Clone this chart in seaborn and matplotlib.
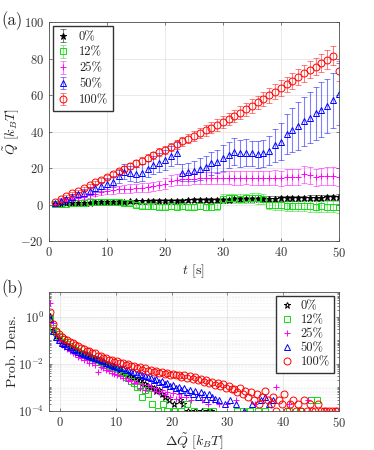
import matplotlib
matplotlib.use('Agg')
import matplotlib.pyplot as plt
import matplotlib.ticker as mticker
from matplotlib.colors import to_rgba
import seaborn as sns
import numpy as np

# ---- top panel: mean heat vs time ----
t = np.arange(1, 51)

q_0 = [0.3, 0.5, 0.6, 0.8, 0.9, 1.0, 1.1, 1.2, 1.3, 1.4,
       1.5, 1.6, 1.6, 1.7, 1.8, 1.8, 1.9, 2.0, 2.0, 2.1,
       2.1, 2.2, 2.2, 2.3, 2.3, 2.4, 2.4, 2.5, 2.5, 2.6,
       2.7, 2.8, 2.9, 3.0, 3.0, 3.1, 3.1, 3.2, 3.2, 3.3,
       3.4, 3.5, 3.5, 3.6, 3.7, 3.7, 3.8, 3.9, 4.0, 4.1]
err_0 = [0.2, 0.3, 0.3, 0.4, 0.4, 0.5, 0.5, 0.5, 0.6, 0.6,
         0.6, 0.7, 0.7, 0.7, 0.7, 0.8, 0.8, 0.8, 0.8, 0.9,
         0.9, 0.9, 0.9, 0.9, 1.0, 1.0, 1.0, 1.0, 1.0, 1.1,
         1.1, 1.1, 1.1, 1.1, 1.2, 1.2, 1.2, 1.2, 1.2, 1.2,
         1.3, 1.3, 1.3, 1.3, 1.3, 1.4, 1.4, 1.4, 1.4, 1.4]

q_12 = [0.2, 0.4, 0.5, 0.7, 0.8, 1.0, 1.2, 1.4, 1.5, 1.6,
        1.5, 1.3, 1.0, 0.6, -0.3, -0.8, -1.0, -1.0, -1.1, -1.2,
        -1.0, -1.1, -1.0, -1.2, -1.1, -1.0, -1.2, -1.1, -1.0, 3.2,
        3.3, 3.4, 3.2, 3.3, 3.4, 3.3, 3.2, 0.0, -0.2, -0.5,
        -0.6, -0.8, -0.7, -0.9, -1.0, -1.1, -1.0, -1.2, -1.1, -1.3]
err_12 = [0.3, 0.4, 0.5, 0.5, 0.6, 0.6, 0.7, 0.7, 0.8, 0.8,
          0.9, 0.9, 1.0, 1.0, 1.1, 1.1, 1.2, 1.2, 1.3, 1.3,
          1.4, 1.4, 1.5, 1.5, 1.6, 1.6, 1.7, 1.7, 1.8, 2.5,
          2.5, 2.6, 2.6, 2.7, 2.7, 2.8, 2.8, 2.6, 2.6, 2.7,
          2.7, 2.8, 2.8, 2.9, 2.9, 3.0, 3.0, 3.1, 3.1, 3.2]

q_25 = [0.5, 1.2, 2.0, 2.8, 3.5, 4.3, 5.0, 6.0, 6.8, 7.5,
        8.0, 8.3, 8.5, 8.7, 9.0, 9.3, 9.5, 10.0, 10.5, 11.5,
        13.0, 13.5, 14.0, 14.0, 14.2, 14.5, 14.3, 14.5, 14.5, 14.5,
        14.8, 14.5, 14.5, 14.8, 14.5, 14.5, 14.3, 14.5, 14.8, 14.5,
        15.0, 15.2, 15.0, 16.5, 16.0, 15.0, 15.5, 15.5, 15.5, 15.0]
err_25 = [0.4, 0.6, 0.8, 1.0, 1.1, 1.3, 1.5, 1.6, 1.8, 2.0,
          2.0, 2.1, 2.2, 2.3, 2.3, 2.4, 2.5, 2.5, 2.6, 2.8,
          3.0, 3.0, 3.1, 3.1, 3.2, 3.2, 3.3, 3.3, 3.4, 3.5,
          3.5, 3.6, 3.6, 3.7, 3.7, 3.8, 3.8, 3.9, 4.0, 4.1,
          4.2, 4.3, 4.4, 4.5, 4.5, 4.6, 4.7, 4.8, 4.9, 5.0]

q_50 = [0.8, 2.0, 3.0, 4.2, 5.5, 6.5, 7.5, 9.0, 10.0, 11.5,
        12.5, 15.5, 18.0, 17.0, 16.5, 17.5, 19.5, 21.5, 23.0, 24.5,
        26.5, 28.0, 17.5, 18.0, 18.5, 19.5, 20.5, 22.5, 23.5, 25.5,
        27.0, 29.0, 28.0, 28.5, 28.0, 27.5, 28.0, 29.5, 32.5, 34.5,
        38.5, 41.0, 43.0, 45.5, 47.5, 50.0, 52.0, 54.0, 57.0, 60.5]
err_50 = [0.5, 0.8, 1.0, 1.3, 1.5, 1.8, 2.0, 2.3, 2.5, 2.8,
          3.0, 3.5, 4.0, 4.0, 4.2, 4.5, 4.5, 5.0, 5.0, 5.5,
          5.5, 6.0, 4.5, 5.0, 5.5, 6.0, 6.0, 6.5, 6.5, 7.0,
          7.0, 7.5, 7.5, 7.5, 7.0, 7.5, 7.5, 8.0, 9.0, 10.0,
          11.0, 12.0, 13.0, 13.5, 14.0, 14.5, 15.0, 15.0, 15.0, 17.0]

q_100 = [1.5, 3.0, 4.6, 6.1, 7.5, 9.0, 10.6, 12.1, 13.6, 15.0,
         16.5, 18.1, 19.6, 21.0, 22.5, 24.1, 25.6, 27.0, 28.6, 30.0,
         31.5, 33.0, 34.6, 36.1, 37.5, 39.0, 40.6, 42.0, 43.5, 45.1,
         46.8, 48.5, 50.3, 52.1, 54.0, 55.9, 57.8, 59.8, 61.8, 63.8,
         65.8, 67.8, 69.8, 71.8, 73.8, 75.6, 77.5, 79.4, 81.5, 73.0]
err_100 = [0.3, 0.4, 0.5, 0.6, 0.7, 0.8, 0.9, 1.0, 1.1, 1.2,
           1.3, 1.4, 1.5, 1.6, 1.7, 1.8, 1.9, 2.0, 2.1, 2.2,
           2.3, 2.4, 2.5, 2.6, 2.7, 2.8, 2.9, 3.0, 3.1, 3.2,
           3.3, 3.4, 3.5, 3.6, 3.7, 3.8, 3.9, 4.0, 4.1, 4.2,
           4.3, 4.4, 4.5, 4.6, 4.7, 4.8, 4.9, 5.0, 5.2, 5.5]

# ---- bottom panel: histograms of delta Q ----
bin_x = np.arange(-1.75, 50, 0.5)   # bin centres

# log10 density for the densely populated bins
logp_0 = [0.05, -0.55, -0.80, -0.95, -1.05, -1.15, -1.22, -1.30, -1.36, -1.43,
          -1.49, -1.55, -1.60, -1.66, -1.71, -1.76, -1.82, -1.86, -1.92, -1.96,
          -2.02, -2.06, -2.12, -2.16, -2.22, -2.27, -2.34, -2.40, -2.48, -2.55,
          -2.62, -2.68, -2.74, -2.82, -2.88, -2.95, -3.00, -3.05, -3.15, -3.10,
          -3.30, -3.40]
logp_12 = [-0.05, -0.50, -0.65, -0.80, -0.95, -1.07, -1.17, -1.26, -1.33, -1.40,
           -1.47, -1.53, -1.58, -1.64, -1.70, -1.74, -1.80, -1.85, -1.92, -1.96,
           -2.05, -2.08, -2.18, -2.20, -2.32, -2.35, -2.50, -2.55, -2.62, -2.75,
           -2.80, -3.00, -2.95, -3.40, -3.10, -3.30]
logp_25 = [0.60, -0.25, -0.75, -1.05, -1.20, -1.30, -1.38, -1.46, -1.55, -1.60,
           -1.72, -1.74, -1.84, -1.86, -1.95, -1.98, -2.05, -2.34, -2.12, -2.20,
           -2.25, -2.30, -2.40, -2.42, -2.50, -2.52, -2.60, -2.62, -2.72, -2.70,
           -2.80, -2.78, -3.05, -2.85, -3.10, -2.92, -3.00, -3.15, -3.05, -3.22,
           -3.10, -3.30, -3.20, -3.40, -3.25, -3.50, -3.30, -3.40]
logp_50 = [-0.10, -0.60, -0.85, -1.00, -1.10, -1.17, -1.24, -1.30, -1.36, -1.42,
           -1.48, -1.53, -1.58, -1.63, -1.68, -1.72, -1.77, -1.82, -1.86, -1.90,
           -1.95, -2.00, -2.05, -2.10, -2.12, -2.18, -2.20, -2.26, -2.28, -2.34,
           -2.36, -2.42, -2.44, -2.50, -2.52, -2.58, -2.60, -2.68, -2.66, -2.76,
           -2.74, -2.85, -2.82, -2.95, -2.90, -3.05, -2.98, -3.10, -3.05, -3.22,
           -3.10, -3.30, -3.15, -3.40, -3.22, -3.30, -3.52, -3.30, -3.40, -3.52]
logp_100 = [0.20, -0.33, -0.60, -0.75, -0.85, -0.95, -0.98, -1.08, -1.10, -1.22,
            -1.24, -1.34, -1.36, -1.46, -1.47, -1.55, -1.56, -1.66, -1.65, -1.76,
            -1.75, -1.84, -1.83, -1.92, -1.89, -1.98, -1.96, -2.05, -2.02, -2.11,
            -2.08, -2.18, -2.14, -2.25, -2.20, -2.30, -2.25, -2.34, -2.30, -2.38,
            -2.34, -2.42, -2.38, -2.46, -2.42, -2.50, -2.46, -2.55, -2.50, -2.60,
            -2.54, -2.64, -2.58, -2.70, -2.64, -2.76, -2.70, -2.82, -2.76, -2.90,
            -2.82, -2.96, -2.88, -3.02, -2.94, -3.08]

# sparse tails: bin centre and number of counts (1 count = 1e-4)
tail_x_0 = [19.5, 20.5, 21.5, 22.0, 23.0, 24.25, 25.5, 26.5, 27.0]
tail_n_0 = [3, 2, 3, 2, 1, 1, 1, 1, 1]
tail_x_12 = [16.5, 17.5, 18.5, 19.25, 20.5, 21.75, 22.75, 24.0, 26.25, 27.5,
             31.75, 32.75, 34.0, 35.5, 36.75, 41.0, 43.0, 45.0, 46.0]
tail_n_12 = [2, 1, 2, 1, 1, 1, 2, 1, 1, 1, 1, 1, 1, 1, 1, 1, 1, 3, 3]
tail_x_25 = [22.5, 23.5, 24.5, 25.5, 26.5, 27.5, 28.5, 30.0, 31.5, 33.0,
             35.0, 38.75, 41.0, 44.5]
tail_n_25 = [4, 3, 5, 3, 2, 3, 2, 2, 3, 1, 2, 10, 2, 3]
tail_x_50 = [28.5, 29.5, 30.5, 31.5, 33.0, 34.5, 36.0, 36.75, 37.5, 38.25]
tail_n_50 = [3, 2, 3, 2, 1, 2, 3, 4, 2, 3]
tail_x_100 = [31.25, 31.75, 32.25, 32.75, 33.25, 33.75, 34.25, 34.75, 35.25, 35.75,
              36.25, 36.75, 37.25, 37.75, 38.25, 38.75, 39.25, 39.75, 40.25, 40.75,
              41.25, 41.75, 42.25, 42.75, 43.25, 43.75, 44.25, 44.75, 45.25, 45.75,
              46.25, 46.75, 47.25, 47.75, 48.25, 48.75, 49.25, 49.75]
tail_n_100 = [8, 6, 9, 5, 7, 4, 6, 3, 5, 2, 4, 7, 3, 2, 4, 1, 3, 2, 5, 1,
              2, 3, 1, 2, 1, 3, 1, 2, 1, 1, 2, 1, 1, 1, 1, 1, 1, 1]

labels = ['0%', '12%', '25%', '50%', '100%']
colors = ['black', '#11dd11', '#ff00ff', '#0000ff', '#ff0000']
markers = ['*', 's', '+', '^', 'o']

top_means = [q_0, q_12, q_25, q_50, q_100]
top_errs = [err_0, err_12, err_25, err_50, err_100]
heads = [logp_0, logp_12, logp_25, logp_50, logp_100]
tails_x = [tail_x_0, tail_x_12, tail_x_25, tail_x_50, tail_x_100]
tails_n = [tail_n_0, tail_n_12, tail_n_25, tail_n_50, tail_n_100]

sns.set_style('ticks')
plt.rcParams['font.family'] = ['cmr10', 'DejaVu Serif']
plt.rcParams['mathtext.fontset'] = 'cm'
plt.rcParams['axes.unicode_minus'] = False
plt.rcParams['axes.formatter.use_mathtext'] = True
plt.rcParams['font.size'] = 9

fig = plt.figure(figsize=(3.74, 4.5), dpi=100)
ax1 = fig.add_axes([0.131, 0.4644, 0.775, 0.4867])
ax2 = fig.add_axes([0.131, 0.0873, 0.775, 0.2644])

# top panel
for mean, err, lab, c, m in zip(top_means, top_errs, labels, colors, markers):
    mfc = c if m == '*' else 'none'
    ax1.errorbar(t, mean, yerr=err, fmt=m, color=c, mfc=mfc, mec=c, ms=5, mew=0.7,
                 ecolor=to_rgba(c, 0.5), elinewidth=0.8, capsize=2, capthick=0.8,
                 label=lab)

ax1.set_xlim(0, 50)
ax1.set_ylim(-20, 100)
ax1.set_xticks(range(0, 51, 10))
ax1.set_yticks(range(-20, 101, 20))
ax1.set_xlabel(r'$t$ [s]', fontsize=10, labelpad=2)
ax1.set_ylabel(r'$\tilde{Q}\ [k_BT]$', fontsize=10)
ax1.yaxis.set_label_coords(-0.095, 0.5)
ax1.grid(True, color='0.88', lw=0.5)
ax1.legend(loc='upper left', frameon=True, fancybox=False, edgecolor='0.2',
           framealpha=1, fontsize=9, handlelength=0.9, labelspacing=0.3,
           borderaxespad=0.3, handletextpad=0.8, borderpad=0.4)

# bottom panel
ax2.set_yscale('log')
for head, tx, tn, lab, c, m in zip(heads, tails_x, tails_n, labels, colors, markers):
    xs = np.concatenate([bin_x[:len(head)], tx])
    ys = np.concatenate([10 ** np.array(head), np.array(tn) * 1e-4])
    sns.lineplot(x=xs, y=ys, ax=ax2, color=c, marker=m, linestyle='',
                 mfc='none', mec=c, ms=5, mew=0.7, label=lab,
                 estimator=None, sort=False)

ax2.set_xlim(-2, 50)
ax2.set_ylim(1e-4, 11.6)
ax2.set_xticks(range(0, 51, 10))
ax2.set_yticks([1e-4, 1e-2, 1e0])
ax2.yaxis.set_major_formatter(mticker.LogFormatterMathtext())
ax2.yaxis.set_minor_locator(mticker.LogLocator(base=10, subs=np.arange(1, 10), numticks=30))
ax2.yaxis.set_minor_formatter(mticker.NullFormatter())
ax2.set_xlabel(r'$\Delta\tilde{Q}\ [k_BT]$', fontsize=10, labelpad=1)
ax2.set_ylabel('Prob. Dens.', fontsize=10)
ax2.yaxis.set_label_coords(-0.105, 0.5)
ax2.grid(True, which='major', color='0.88', lw=0.5)
ax2.grid(True, which='minor', axis='y', color='0.88', lw=0.4, ls=':')
ax2.legend(loc='upper right', frameon=True, fancybox=False, edgecolor='0.2',
           framealpha=1, fontsize=9, handlelength=1.0, labelspacing=0.15,
           borderaxespad=0.35, handletextpad=0.6, borderpad=0.35)

for ax in (ax1, ax2):
    for s in ax.spines.values():
        s.set_color('0.3')
        s.set_linewidth(0.6)
    ax.tick_params(which='both', direction='in', top=True, right=True,
                   colors='0.3', labelcolor='0.2', labelsize=9, width=0.5)
    ax.tick_params(which='major', length=2.5)
    ax.tick_params(which='minor', length=1.5)

fig.text(0.004, 1 - 21 / 450, '(a)', fontsize=12, va='center', ha='left')
fig.text(0.004, 1 - 289 / 450, '(b)', fontsize=12, va='center', ha='left')

fig.savefig('out.png', dpi=100)
